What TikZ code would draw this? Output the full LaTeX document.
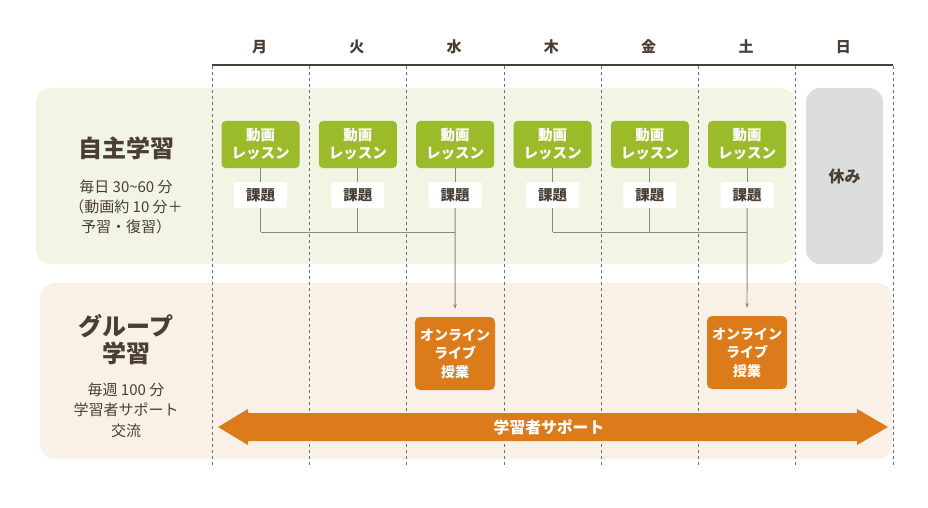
\documentclass[tikz,border=0pt]{standalone}
\usepackage{fontspec}
\setmainfont{Noto Sans CJK JP}
\usepackage{tikz}
\usetikzlibrary{positioning,arrows.meta}

\definecolor{txtbrown}{HTML}{4A3E34}
\definecolor{selfbg}{HTML}{F2F5E3}
\definecolor{groupbg}{HTML}{F9F1E7}
\definecolor{lessongreen}{HTML}{9CBB2B}
\definecolor{liveorange}{HTML}{DC7B19}
\definecolor{restgray}{HTML}{DCDDDD}
\definecolor{linkgray}{HTML}{8F8876}
\definecolor{gridgray}{HTML}{707070}

\begin{document}
\begin{tikzpicture}[x=1pt,y=-1pt,node distance=97.3pt,on grid,
    day/.style={font=\bfseries\fontsize{15}{15}\selectfont,text=txtbrown},
    lesson/.style={fill=lessongreen,rounded corners=4pt,text=white,align=center,
      minimum width=78pt,minimum height=47pt,inner sep=0pt,
      font=\bfseries\fontsize{14.5}{18}\selectfont},
    task/.style={fill=white,rounded corners=1.5pt,text=txtbrown,
      minimum width=53pt,minimum height=26pt,inner sep=0pt,
      font=\bfseries\fontsize{14.5}{14.5}\selectfont},
    live/.style={fill=liveorange,rounded corners=5pt,text=white,align=center,
      minimum width=80pt,minimum height=73pt,inner sep=0pt,
      font=\bfseries\fontsize{14}{18.5}\selectfont},
    title/.style={text=txtbrown,align=center,font=\bfseries\fontsize{24}{27}\selectfont},
    note/.style={text=txtbrown,align=center,font=\fontsize{15}{20.5}\selectfont},
    link/.style={draw=linkgray,line width=0.9pt},
    grid/.style={draw=gridgray,line width=0.7pt,dash pattern=on 3pt off 3pt}]
  \useasboundingbox (0,0) rectangle (928,508);

  % panels
  \fill[selfbg,rounded corners=15pt] (36,88) rectangle (795,264);
  \fill[groupbg,rounded corners=15pt] (40,283) rectangle (892,459);

  % week grid
  \draw[txtbrown,line width=1.8pt] (212,65) -- (893,65);
  \path[grid]
    (212,66) -- (212,465)   (309.3,66) -- (309.3,465)
    (406.6,66) -- (406.6,465) (503.9,66) -- (503.9,465)
    (601.2,66) -- (601.2,465) (698.5,66) -- (698.5,465)
    (795.8,66) -- (795.8,465) (893,66) -- (893,465);

  \node[day] (mon)                 at (259.5,47) {月};
  \node[day] (tue) [right=of mon]  {火};
  \node[day] (wed) [right=of tue]  {水};
  \node[day] (thu) [right=of wed]  {木};
  \node[day] (fri) [right=of thu]  {金};
  \node[day] (sat) [right=of fri]  {土};
  \node[day] (sun) [right=of sat]  {日};

  \node[fill=restgray,rounded corners=14pt,minimum width=77pt,minimum height=176pt,
    text=txtbrown,font=\bfseries\fontsize{16}{16}\selectfont] (rest) at (844.5,176) {休み};

  % left labels
  \node[title] (self_title)  at (126,148) {自主学習};
  \node[note,font=\fontsize{15}{20}\selectfont] (self_note) at (126,207)
    {毎日 30\textasciitilde60 分\\（動画約 10 分＋\\予習・復習）};
  \node[title] (group_title) at (126,340) {グループ\\学習};
  \node[note]  (group_note)  at (126,410) {毎週 100 分\\学習者サポート\\交流};

  % self study
  \node[lesson] (l_mon) at (260.6,144.5)     {動画\\レッスン};
  \node[lesson] (l_tue) [right=of l_mon]     {動画\\レッスン};
  \node[lesson] (l_wed) [right=of l_tue]     {動画\\レッスン};
  \node[lesson] (l_thu) [right=of l_wed]     {動画\\レッスン};
  \node[lesson] (l_fri) [right=of l_thu]     {動画\\レッスン};
  \node[lesson] (l_sat) [right=of l_fri]     {動画\\レッスン};

  \node[task] (t_mon) [below=50.5pt of l_mon] {課題};
  \node[task] (t_tue) [below=50.5pt of l_tue] {課題};
  \node[task] (t_wed) [below=50.5pt of l_wed] {課題};
  \node[task] (t_thu) [below=50.5pt of l_thu] {課題};
  \node[task] (t_fri) [below=50.5pt of l_fri] {課題};
  \node[task] (t_sat) [below=50.5pt of l_sat] {課題};

  % group study
  \node[live] (live_wed) at (455,353.5) {オンライン\\ライブ\\授業};
  \node[live] (live_sat) at (747,352.5) {オンライン\\ライブ\\授業};

  \coordinate (j_mon) at (l_mon |- 0,232);
  \coordinate (j_tue) at (l_tue |- 0,232);
  \coordinate (j_wed) at (l_wed |- 0,232);
  \coordinate (j_thu) at (l_thu |- 0,232);
  \coordinate (j_fri) at (l_fri |- 0,232);
  \coordinate (j_sat) at (l_sat |- 0,232);

  \path[link]
    (l_mon) edge (t_mon) (l_tue) edge (t_tue) (l_wed) edge (t_wed)
    (l_thu) edge (t_thu) (l_fri) edge (t_fri) (l_sat) edge (t_sat)
    (t_mon) edge (j_mon) (t_tue) edge (j_tue)
    (t_thu) edge (j_thu) (t_fri) edge (j_fri)
    (j_mon) edge (j_wed) (j_thu) edge (j_sat);
  \path[link,-{Stealth[length=5pt,width=3.5pt]},shorten >=8pt]
    (t_wed) edge (live_wed)
    (t_sat) edge (live_sat);

  % support arrow
  \fill[liveorange] (218,427) -- (248,409) -- (248,413) -- (857,413) -- (857,409)
    -- (888,427) -- (857,445) -- (857,441) -- (248,441) -- (248,445) -- cycle;
  \node[text=white,font=\bfseries\fontsize{15.8}{15.8}\selectfont] (support) at (549,427) {学習者サポート};
\end{tikzpicture}
\end{document}
